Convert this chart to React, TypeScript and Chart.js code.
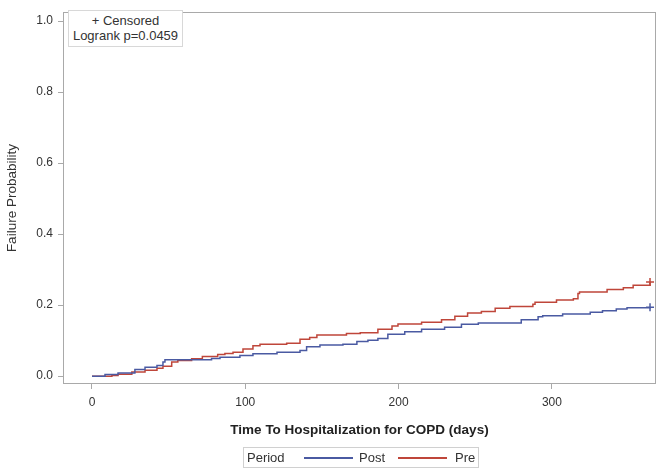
import React, { useEffect, useRef } from "react";
import { Chart, registerables } from "chart.js";

Chart.register(...registerables);

// Kaplan-Meier failure curves (days, failure probability)
const postDays = [0, 8.5, 17, 28, 34.6, 42.4, 46.3, 47.6, 78, 83.5, 96.5, 105, 120.7, 135.7, 140, 148.7, 163.7, 172.8, 180, 186.5, 193, 204, 215, 230, 241, 252, 280, 291, 294, 307, 325, 333, 342, 349, 364];
const postFail = [0, 0.005, 0.009, 0.019, 0.025, 0.03, 0.04, 0.046, 0.05, 0.053, 0.058, 0.063, 0.067, 0.072, 0.083, 0.088, 0.09, 0.0975, 0.101, 0.106, 0.118, 0.125, 0.132, 0.138, 0.146, 0.15, 0.159, 0.167, 0.17, 0.175, 0.18, 0.184, 0.189, 0.1925, 0.194];

const preDays = [0, 13, 17, 26, 34.6, 42.4, 46.3, 52, 56, 65, 72, 82, 86.7, 92, 98.5, 105, 109.6, 127, 135.7, 142, 146.7, 166, 175, 186.5, 195.7, 199.6, 215, 228, 236.7, 245, 254, 263, 272.6, 287.6, 289, 303, 314, 317, 318, 336, 346.6, 353, 364];
const preFail = [0, 0.002, 0.0055, 0.012, 0.0166, 0.022, 0.028, 0.04, 0.044, 0.049, 0.055, 0.061, 0.064, 0.067, 0.0765, 0.0856, 0.09, 0.093, 0.104, 0.1086, 0.116, 0.12, 0.122, 0.132, 0.141, 0.147, 0.152, 0.159, 0.1685, 0.178, 0.182, 0.191, 0.196, 0.2025, 0.208, 0.2146, 0.218, 0.233, 0.237, 0.244, 0.249, 0.256, 0.265];

const xTicks = [0, 100, 200, 300];
const yTicks = [0, 0.2, 0.4, 0.6, 0.8, 1.0];

const POST_COLOR = "#4a5aa2";
const PRE_COLOR = "#bf463a";
const FRAME = "#a9a9a9";
const FONT = "'Liberation Sans', Arial, sans-serif";

const framePlugin = {
  id: "frame",
  afterDraw(chart: any) {
    const { ctx, chartArea } = chart;
    ctx.save();
    ctx.strokeStyle = FRAME;
    ctx.lineWidth = 1;
    ctx.strokeRect(
      Math.round(chartArea.left) + 0.5,
      Math.round(chartArea.top) + 0.5,
      Math.round(chartArea.right - chartArea.left) - 1,
      Math.round(chartArea.bottom - chartArea.top) - 1
    );
    ctx.restore();
  },
};

function toPoints(xs: number[], ys: number[]) {
  return xs.map((x, i) => ({ x, y: ys[i] }));
}

export default function App() {
  const ref = useRef<HTMLCanvasElement>(null);

  useEffect(() => {
    if (!ref.current) return;
    const lastIdx = (arr: number[]) => arr.length - 1;
    const chart = new Chart(ref.current, {
      type: "line",
      data: {
        datasets: [
          {
            label: "Post",
            data: toPoints(postDays, postFail),
            borderColor: POST_COLOR,
            backgroundColor: POST_COLOR,
            borderWidth: 1.5,
            stepped: "before",
            pointStyle: "cross",
            pointRadius: (c: any) => (c.dataIndex === lastIdx(postDays) ? 4 : 0),
            pointBorderWidth: 1.5,
            pointBorderColor: POST_COLOR,
            fill: false,
            clip: false as any,
          },
          {
            label: "Pre",
            data: toPoints(preDays, preFail),
            borderColor: PRE_COLOR,
            backgroundColor: PRE_COLOR,
            borderWidth: 1.5,
            stepped: "before",
            pointStyle: "cross",
            pointRadius: (c: any) => (c.dataIndex === lastIdx(preDays) ? 4 : 0),
            pointBorderWidth: 1.5,
            pointBorderColor: PRE_COLOR,
            fill: false,
            clip: false as any,
          },
        ],
      },
      options: {
        animation: false,
        responsive: false,
        maintainAspectRatio: false,
        layout: { padding: { top: 5, right: 7, left: 0, bottom: 0 } },
        plugins: {
          legend: { display: false },
          tooltip: { enabled: false },
        },
        scales: {
          x: {
            type: "linear",
            min: -18.9,
            max: 367.9,
            afterBuildTicks: (axis: any) => {
              axis.ticks = xTicks.map((v) => ({ value: v }));
            },
            afterFit: (s: any) => {
              s.height = 87;
            },
            grid: {
              drawOnChartArea: false,
              drawTicks: true,
              tickLength: 5,
              color: FRAME,
            },
            border: { display: false },
            ticks: {
              padding: 6,
              color: "#333",
              font: { family: FONT, size: 12 },
              maxRotation: 0,
              callback: (v: any) => String(v),
            },
            title: {
              display: true,
              text: "Time To Hospitalization for COPD (days)",
              color: "#222",
              font: { family: FONT, size: 13.5, weight: "bold" },
              padding: { top: 0, bottom: 33 },
            },
          },
          y: {
            type: "linear",
            min: -0.0221,
            max: 1.0249,
            afterBuildTicks: (axis: any) => {
              axis.ticks = yTicks.map((v) => ({ value: v }));
            },
            afterFit: (s: any) => {
              s.width = 63;
            },
            grid: {
              drawOnChartArea: false,
              drawTicks: true,
              tickLength: 5,
              color: FRAME,
            },
            border: { display: false },
            ticks: {
              padding: 5,
              color: "#333",
              font: { family: FONT, size: 12 },
              callback: (v: any) => Number(v).toFixed(1),
            },
            title: {
              display: true,
              text: "Failure Probability",
              color: "#333",
              font: { family: FONT, size: 13.5 },
              padding: { top: 4, bottom: 0 },
            },
          },
        },
      },
      plugins: [framePlugin],
    } as any);
    return () => chart.destroy();
  }, []);

  const lineStyle = (color: string, left: number): React.CSSProperties => ({
    position: "absolute",
    left,
    top: 9,
    width: 49,
    height: 2,
    background: color,
  });
  const textStyle = (left: number): React.CSSProperties => ({
    position: "absolute",
    left,
    top: 1,
    lineHeight: "17px",
    whiteSpace: "nowrap",
  });

  return (
    <div
      style={{
        position: "absolute",
        left: 0,
        top: 0,
        width: 663,
        height: 471,
        background: "#fff",
        fontFamily: FONT,
        color: "#333",
      }}
    >
      <canvas ref={ref} width={663} height={471} style={{ display: "block" }} />
      <div
        style={{
          position: "absolute",
          left: 68,
          top: 10,
          width: 113,
          height: 33,
          border: "1px solid #d8d8d8",
          background: "#fff",
          fontSize: 13,
          lineHeight: "15px",
          textAlign: "center",
          paddingTop: 2,
          boxSizing: "content-box",
        }}
      >
        <div>+ Censored</div>
        <div>Logrank p=0.0459</div>
      </div>
      <div
        style={{
          position: "absolute",
          left: 243,
          top: 447,
          width: 234,
          height: 19,
          border: "1px solid #d0d0d0",
          fontSize: 13,
        }}
      >
        <span style={textStyle(3)}>Period</span>
        <div style={lineStyle(POST_COLOR, 60)} />
        <span style={textStyle(115)}>Post</span>
        <div style={lineStyle(PRE_COLOR, 154)} />
        <span style={textStyle(211)}>Pre</span>
      </div>
    </div>
  );
}
